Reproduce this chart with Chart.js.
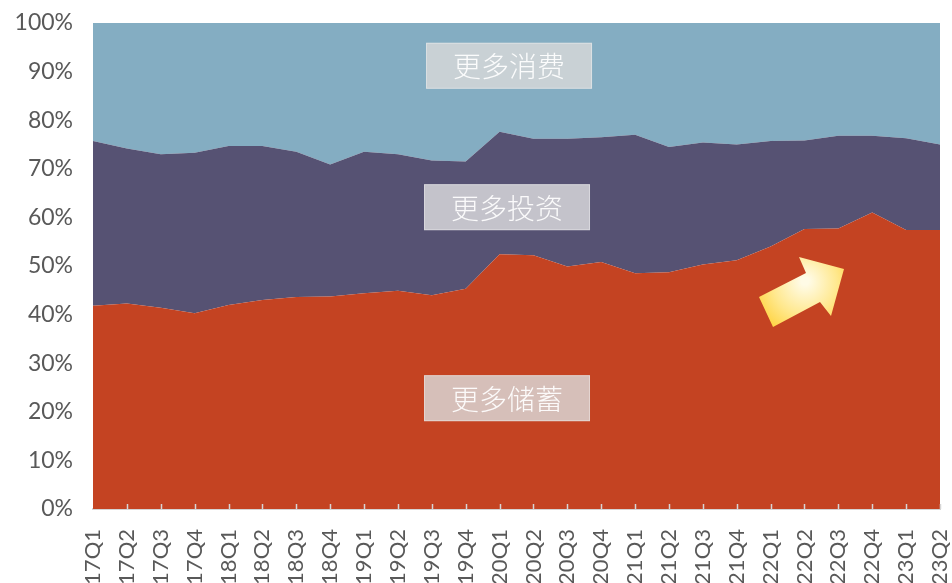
<!DOCTYPE html>
<html>
<head>
<meta charset="utf-8">
<script src="https://cdn.jsdelivr.net/npm/chart.js@4.4.1/dist/chart.umd.min.js"></script>
<style>
  html, body { margin: 0; padding: 0; background: #fff; }
  #wrap { width: 952px; height: 583px; overflow: hidden; position: relative; }
</style>
</head>
<body>
<div id="wrap"><canvas id="chart-canvas" width="952" height="610"></canvas></div>
<script>
const labels = [
    '17Q1', '17Q2', '17Q3', '17Q4', '18Q1', '18Q2', '18Q3', '18Q4',
    '19Q1', '19Q2', '19Q3', '19Q4', '20Q1', '20Q2', '20Q3', '20Q4',
    '21Q1', '21Q2', '21Q3', '21Q4', '22Q1', '22Q2', '22Q3', '22Q4',
    '23Q1', '23Q2',
];
// share of respondents, %
const savings = [
    41.8, 42.3, 41.4, 40.3, 42.0, 43.0, 43.6, 43.7, 44.4, 44.9, 44.0, 45.3, 52.4,
    52.2, 49.9, 50.8, 48.5, 48.7, 50.3, 51.2, 54.0, 57.6, 57.7, 61.0, 57.4, 57.4,
];
const investment = [
    33.9, 31.9, 31.6, 33.0, 32.7, 31.7, 29.9, 27.2, 29.1, 28.1, 27.7, 26.2, 25.2,
    24.0, 26.3, 25.7, 28.5, 25.8, 25.1, 23.8, 21.7, 18.2, 19.1, 15.8, 18.9, 17.6,
];
const consumption = [
    24.3, 25.8, 27.0, 26.7, 25.3, 25.3, 26.5, 29.1, 26.5, 27.0, 28.3, 28.5, 22.4,
    23.8, 23.8, 23.5, 23.0, 25.5, 24.6, 25.0, 24.3, 24.2, 23.2, 23.2, 23.7, 25.0,
];
const yTicks = [0, 10, 20, 30, 40, 50, 60, 70, 80, 90, 100];

// text boxes: [label, category position, y value in %, box fill]
const tags = [
    ['更多消费', 12.28, 91.2, 'rgb(201,209,213)'],
    ['更多投资', 12.22, 62.1, 'rgb(196,195,203)'],
    ['更多储蓄', 12.22, 22.8, 'rgb(214,191,185)'],
];

const yFont = { family: 'Lato', size: 23 };
const xFont = { family: 'Lato', size: 22 };

const overlay = {
    id: 'overlay',
    afterDatasetsDraw(chart) {
        const ctx = chart.ctx;
        const xs = chart.scales.x, ys = chart.scales.y;
        const area = chart.chartArea;
        ctx.save();

        // small inward ticks on the category axis
        ctx.strokeStyle = '#d6d6d6';
        ctx.lineWidth = 1.5;
        for (let i = 1; i < labels.length; i++) {
            const x = Math.round(xs.getPixelForValue(i)) + 0.5;
            ctx.beginPath();
            ctx.moveTo(x, area.bottom - 5);
            ctx.lineTo(x, area.bottom);
            ctx.stroke();
        }

        // label boxes
        ctx.font = '300 28px "Noto Sans CJK SC"';
        ctx.textAlign = 'center';
        ctx.textBaseline = 'middle';
        tags.forEach(([text, pos, val, fill]) => {
            const cx = xs.getPixelForValue(pos);
            const cy = ys.getPixelForValue(val);
            ctx.fillStyle = fill;
            ctx.fillRect(cx - 83, cy - 23, 166, 46);
            ctx.strokeStyle = 'rgba(255,255,255,0.35)';
            ctx.lineWidth = 1;
            ctx.strokeRect(cx - 82.5, cy - 22.5, 165, 45);
            ctx.fillStyle = 'rgba(255,255,255,0.92)';
            ctx.fillText(text, cx, cy + 1);
        });

        // rising arrow
        const ox = area.left, oy = area.top;
        const pts = [
            [666, 274], [713, 250], [706, 234], [751, 246],
            [738, 293], [727, 279], [680, 304],
        ];
        const g = ctx.createRadialGradient(ox + 712, oy + 258, 4, ox + 712, oy + 262, 55);
        g.addColorStop(0, '#fffbe6');
        g.addColorStop(0.55, '#ffe88e');
        g.addColorStop(1, '#ffd23c');
        ctx.fillStyle = g;
        ctx.beginPath();
        pts.forEach(([x, y], i) => {
            if (i === 0) ctx.moveTo(ox + x, oy + y);
            else ctx.lineTo(ox + x, oy + y);
        });
        ctx.closePath();
        ctx.fill();

        ctx.restore();
    }
};

const data = {
    labels: labels,
    datasets: [{
        label: '更多储蓄',
        data: savings,
        backgroundColor: '#c44322',
        fill: 'origin',
    }, {
        label: '更多投资',
        data: investment,
        backgroundColor: '#565273',
        fill: '-1',
    }, {
        label: '更多消费',
        data: consumption,
        backgroundColor: '#84adc2',
        fill: '-1',
    }]
};

const config = {
    type: 'line',
    data,
    options: {
        responsive: false,
        animation: false,
        devicePixelRatio: 1,
        layout: { padding: { top: 23, right: 12, left: 0, bottom: 0 } },
        elements: {
            point: { radius: 0 },
            line: { borderWidth: 0, tension: 0 },
        },
        plugins: {
            legend: { display: false },
            tooltip: { enabled: false },
        },
        scales: {
            x: {
                offset: false,
                grid: { display: false, drawTicks: false },
                border: { display: true, color: '#d4d4d4', width: 2 },
                ticks: {
                    autoSkip: false,
                    minRotation: 90,
                    maxRotation: 90,
                    padding: 20,
                    color: '#595959',
                    font: xFont,
                },
                afterFit(scale) {
                    scale.height = 101;
                    scale.paddingLeft = 0;
                    scale.paddingRight = 0;
                },
            },
            y: {
                stacked: true,
                min: 0,
                max: 100,
                afterBuildTicks(scale) {
                    scale.ticks = yTicks.map(v => ({ value: v }));
                },
                grid: { display: false, drawTicks: false },
                border: { display: false },
                ticks: {
                    padding: 20,
                    color: '#595959',
                    font: yFont,
                    callback: v => v + '%',
                },
                afterFit(scale) {
                    scale.width = 93;
                    scale.paddingTop = 0;
                    scale.paddingBottom = 0;
                },
            }
        }
    },
    plugins: [overlay]
};

let myChart = new Chart(document.getElementById('chart-canvas'), config);
</script>
</body>
</html>
